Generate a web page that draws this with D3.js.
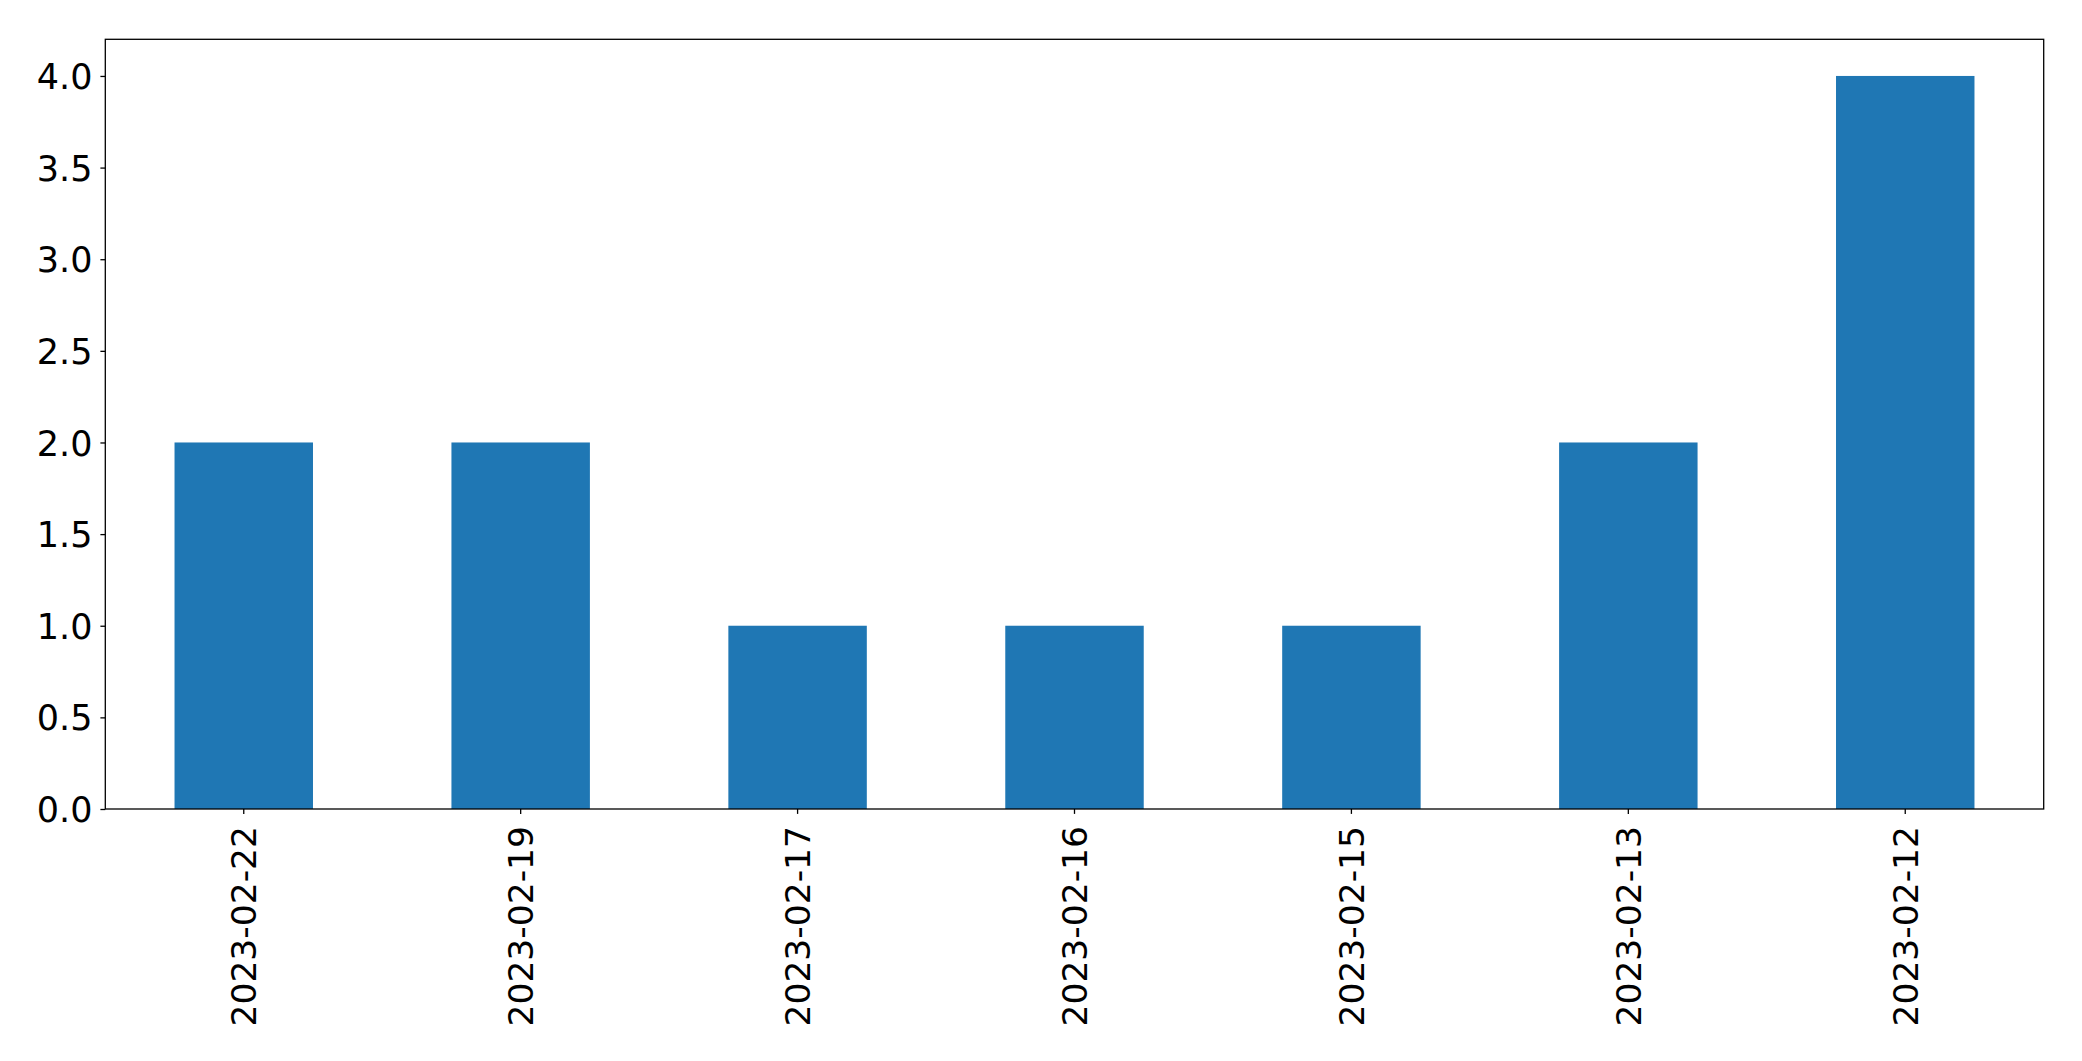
<!DOCTYPE html>
<html>
<head>
<meta charset="utf-8">
<script src="https://cdn.jsdelivr.net/npm/d3@7"></script>
<style>
  html, body { margin: 0; padding: 0; background: #fff; }
  svg { display: block; }
  .tick text { font-family: "DejaVu Sans", sans-serif; fill: #000; }
</style>
</head>
<body>
<svg id="chart" width="2082" height="1061"></svg>
<script>
const categories = ["2023-02-22", "2023-02-19", "2023-02-17", "2023-02-16", "2023-02-15", "2023-02-13", "2023-02-12"];
const values = [2, 2, 1, 1, 1, 2, 4];
const yTicks = [0, 0.5, 1, 1.5, 2, 2.5, 3, 3.5, 4];

(function () {
const svg = d3.select("#chart");
const mLeft = 105.3, mRight = 2043.7, mTop = 39.3, mBottom = 809;

const x = d3.scaleBand().domain(categories).range([mLeft, mRight]).paddingInner(0.5).paddingOuter(0.25);
const y = d3.scaleLinear().domain([0, 4.2]).range([mBottom, mTop]);

svg.append("g").selectAll("rect").data(values).join("rect")
  .attr("x", (d, i) => x(categories[i]))
  .attr("width", x.bandwidth())
  .attr("y", d => y(d))
  .attr("height", d => y(0) - y(d))
  .attr("fill", "#1f77b4");

svg.append("rect").attr("x", mLeft).attr("y", mTop).attr("width", mRight - mLeft).attr("height", mBottom - mTop)
  .attr("fill", "none").attr("stroke", "#000").attr("stroke-width", 1.3);

const yAxis = svg.append("g").attr("transform", `translate(${mLeft},0)`)
  .call(d3.axisLeft(y).tickValues(yTicks).tickFormat(d3.format(".1f")).tickSize(4.9).tickPadding(8));
yAxis.select(".domain").remove();
yAxis.selectAll(".tick line").attr("stroke", "#000").attr("stroke-width", 1.3);
yAxis.selectAll(".tick text").attr("font-size", "35px").attr("dy", "0.36em");

const xAxis = svg.append("g").attr("transform", `translate(0,${mBottom})`)
  .call(d3.axisBottom(x).tickSize(4.9).tickPadding(0));
xAxis.select(".domain").remove();
xAxis.selectAll(".tick line").attr("stroke", "#000").attr("stroke-width", 1.3);
xAxis.selectAll(".tick text")
  .attr("font-size", "34.5px")
  .attr("text-anchor", "end")
  .attr("transform", "translate(0,17) rotate(-90)")
  .attr("x", 0).attr("y", 0).attr("dy", "0.36em");
})();
</script>
</body>
</html>
